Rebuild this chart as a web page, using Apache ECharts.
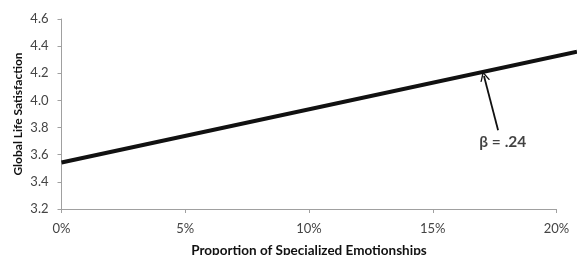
<!DOCTYPE html>
<html><head><meta charset="utf-8">
<script src="https://cdn.jsdelivr.net/npm/echarts@6/dist/echarts.min.js"></script>
<style>html,body{margin:0;padding:0;background:#fff}#c{width:577px;height:255px}</style>
</head><body><div id="c"></div>
<script>
const xTicks = [0, 5, 10, 15, 20];           // percent
const yTicks = [3.2, 3.4, 3.6, 3.8, 4.0, 4.2, 4.4, 4.6];
const lineX = [0, 20.83];
const lineY = [3.543, 4.359];
const arrowTail = [17.64, 3.78];
const arrowTip = [17.07, 4.18];
const betaLabel = 'β = .24';
const betaPos = [17.83, 3.696];

const chart = echarts.init(document.getElementById('c'));
const font = 'Lato, "Liberation Sans", sans-serif';
const yRange = {min: yTicks[0], max: yTicks[yTicks.length - 1], interval: 0.2};
chart.setOption({
  animation: false,
  grid: [
    {left: 61.5, right: 20.5, top: 19, bottom: 46, containLabel: false, outerBoundsMode: 'none'},
    {left: 61.5, right: 0, top: 19, bottom: 46, containLabel: false, outerBoundsMode: 'none'}
  ],
  xAxis: [{
    type: 'value', gridIndex: 0, min: xTicks[0], max: xTicks[xTicks.length - 1], interval: 5,
    name: 'Proportion of Specialized Emotionships', nameLocation: 'middle', nameGap: 35, nameMoveOverlap: false,
    nameTextStyle: {fontFamily: font, fontWeight: 'bold', fontSize: 13.5, color: '#111'},
    axisLine: {show: true, lineStyle: {color: '#a0a0a0', width: 1}},
    axisTick: {show: true, length: 4, lineStyle: {color: '#a0a0a0'}},
    axisLabel: {formatter: v => v + '%', fontFamily: font, fontSize: 13, color: '#444', margin: 13},
    splitLine: {show: false}
  }, {
    type: 'value', gridIndex: 1, min: 0, max: lineX[1], show: false
  }],
  yAxis: [{
    type: 'value', gridIndex: 0, ...yRange,
    name: 'Global Life Satisfaction', nameLocation: 'middle', nameGap: 37, nameMoveOverlap: false,
    nameTextStyle: {fontFamily: font, fontWeight: 'bold', fontSize: 12, color: '#111'},
    axisLine: {show: true, lineStyle: {color: '#a0a0a0', width: 1}},
    axisTick: {show: true, length: 4, lineStyle: {color: '#a0a0a0'}},
    axisLabel: {formatter: v => v.toFixed(1), fontFamily: font, fontSize: 13, color: '#444', margin: 13},
    splitLine: {show: false}
  }, {
    type: 'value', gridIndex: 1, ...yRange, show: false
  }],
  series: [
    {
      type: 'line', xAxisIndex: 1, yAxisIndex: 1, symbol: 'none', silent: true,
      data: lineX.map((x, i) => [x, lineY[i]]),
      lineStyle: {color: '#111', width: 4}
    },
    {
      type: 'line', xAxisIndex: 0, yAxisIndex: 0, symbol: 'none', silent: true, data: [],
      markLine: {
        silent: true, animation: false,
        symbol: ['none', 'path://M0,0 L-6,12 L-4.3,12 L0,3.6 L4.3,12 L6,12 Z'],
        symbolSize: [10, 10],
        lineStyle: {color: '#111', width: 1.8, type: 'solid'},
        label: {show: false},
        data: [[{coord: arrowTail}, {coord: arrowTip}]]
      }
    },
    {
      type: 'scatter', xAxisIndex: 0, yAxisIndex: 0, symbolSize: 0, silent: true,
      data: [betaPos],
      label: {show: true, position: 'inside', formatter: betaLabel,
        fontFamily: font, fontWeight: 'bold', fontSize: 15.5, color: '#111'}
    }
  ]
});
</script></body></html>
